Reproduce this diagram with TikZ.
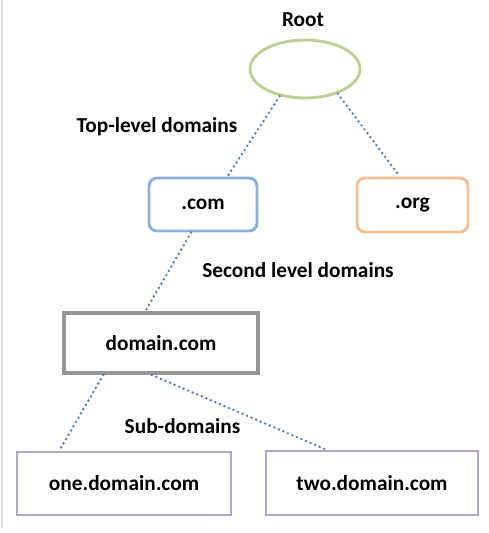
\documentclass[tikz,border=0pt]{standalone}
\usepackage{fontspec}
\setmainfont{Carlito}
\usepackage{tikz}
\usetikzlibrary{shapes.geometric}

\definecolor{rootgreen}{RGB}{190,208,150}
\definecolor{comblue}{RGB}{140,175,220}
\definecolor{orgorange}{RGB}{246,190,145}
\definecolor{domgray}{RGB}{150,150,150}
\definecolor{subpurple}{RGB}{180,165,205}
\definecolor{dotblue}{RGB}{79,120,180}

\tikzset{
  lbl/.style={font=\fontsize{16}{19}\selectfont\bfseries, inner sep=0pt},
  box/.style={draw, fill=white, inner sep=0pt, font=\fontsize{16}{19}\selectfont\bfseries},
  link/.style={dotblue, line width=2pt, line cap=round, dash pattern=on 0pt off 3.7pt}
}

\begin{document}
\begin{tikzpicture}[x=0.75pt,y=0.75pt,yscale=-1]
\useasboundingbox (0,0) rectangle (489,533);

%Left edge line
\draw [color={rgb,255:red,225;green,225;blue,225}, line width=0.9pt] (2,0) -- (2,528) ;

% Shapes
\node [box, ellipse, draw=rootgreen, line width=2.2pt, minimum width=82.5pt, minimum height=43.5pt] (root) at (305,69) {};
\node [box, draw=comblue, rounded corners=6pt, line width=2.2pt, minimum width=81pt, minimum height=39.75pt] (com) at (203,204.5) {.com};
\node [box, draw=orgorange, rounded corners=6pt, line width=2.2pt, minimum width=83.25pt, minimum height=40.5pt] (org) at (412.5,205) {.org};
\node [box, draw=domgray, line width=3pt, minimum width=145.5pt, minimum height=45pt] (dom) at (161,343) {domain.com};
\node [box, draw=subpurple, line width=2.2pt, minimum width=160.5pt, minimum height=47.25pt] (one) at (124,483.5) {one.domain.com};
\node [box, draw=subpurple, line width=2.2pt, minimum width=159pt, minimum height=48pt] (two) at (372,483) {two.domain.com};

% Text Node
\node [lbl, anchor=base] (rootlbl) at (303,26.5) {Root};
% Text Node
\node [lbl, anchor=base] (toplbl) at (157,132) {Top-level domains};
% Text Node
\node [lbl, anchor=base] (seclbl) at (298,277) {Second level domains};
% Text Node
\node [lbl, anchor=base] (sublbl) at (182.5,433) {Sub-domains};

%Dotted Lines
\draw [link] (root.227) -- (com.49) ;
\draw [link] (root.323) -- (org.114) ;
\draw [link] (com.247) -- (dom.116) ;
\draw [link] (dom.209) -- (one.153) ;
\draw [link] (dom.254) -- (two.144) ;

\end{tikzpicture}
\end{document}
